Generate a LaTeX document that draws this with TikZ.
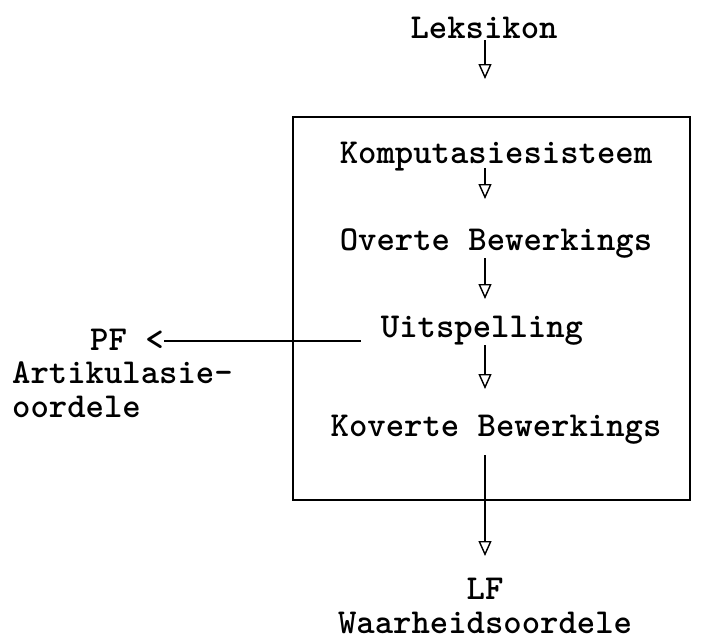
\documentclass[tikz,border=0pt]{standalone}
\usepackage{fontspec}
\usetikzlibrary{arrows.meta}
\tikzset{
	woord/.style={font=\ttfamily\bfseries\fontsize{35}{34}\selectfont, inner sep=0pt},
	pyl/.style={line width=1.4pt, -{Triangle[open, width=13pt, length=15pt, line width=1.4pt]}},
	lyn/.style={line width=1.4pt}
}
\begin{document}
\begin{tikzpicture}[x=1pt, y=-1pt]
	\useasboundingbox (0,0) rectangle (705,643);

	% Leksikon bo die stelsel
	\node[woord] (leks) at (484, 28) {Leksikon};

	% Die raam
	\draw[lyn] (293, 117) rectangle (690, 500);

	\node[woord] (komp) at (496, 157) {Komputasiesisteem};
	\node[woord] (overt) at (496, 244) {Overte Bewerkings};
	\node[woord] (uit) at (482, 331) {Uitspelling};
	\node[woord] (kovert) at (496, 430) {Koverte Bewerkings};

	% Uitsette
	\node[woord, anchor=west] (pf) at (90, 340) {PF <};
	\node[woord, anchor=north west, align=left] (art) at (12, 361) {Artikulasie-\\oordele};
	\node[woord, align=center] (lf) at (485, 606) {LF\\Waarheidsoordele};

	% Pyle
	\draw[pyl] (485, 40) -- (485, 79);
	\draw[pyl] (485, 168) -- (485, 199);
	\draw[pyl] (485, 258) -- (485, 299);
	\draw[pyl] (485, 345) -- (485, 389);
	\draw[pyl] (485, 455) -- (485, 556);
	\draw[lyn] (uit.west) ++(-20, 10) coordinate (u) -- (pf.east |- u);

\end{tikzpicture}
\end{document}
